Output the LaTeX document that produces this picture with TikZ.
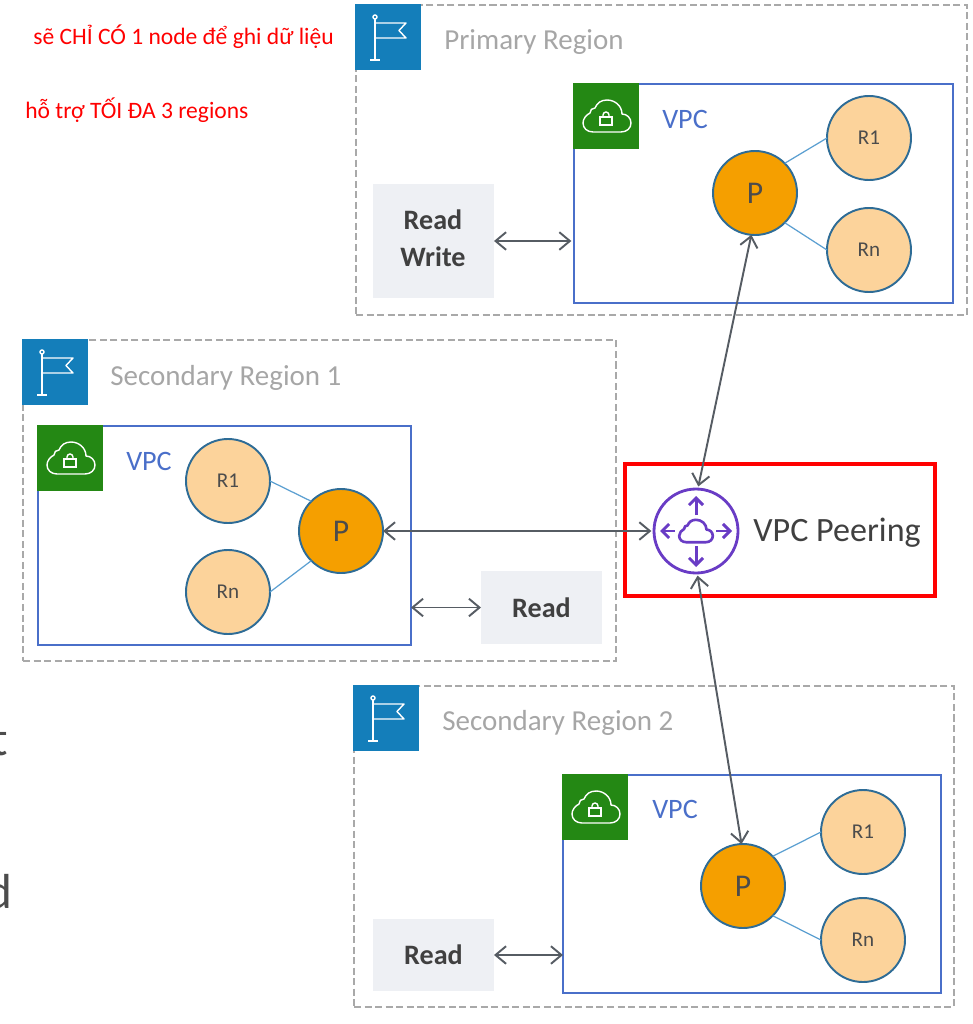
\documentclass[tikz,border=0pt]{standalone}
\usepackage{fontspec}
\setmainfont{Carlito}
\usetikzlibrary{arrows.meta,calc}
\definecolor{regiongray}{HTML}{A9A9A9}
\definecolor{flagblue}{HTML}{147EBA}
\definecolor{vpcgreen}{HTML}{248814}
\definecolor{vpcblue}{HTML}{4A6FC9}
\definecolor{pnode}{HTML}{F59F00}
\definecolor{rnode}{HTML}{FCD39B}
\definecolor{nodeline}{HTML}{2E6C96}
\definecolor{tieline}{HTML}{5B9FD1}
\definecolor{arrowgray}{HTML}{565C63}
\definecolor{rwfill}{HTML}{EEF0F4}
\definecolor{peerpurple}{HTML}{693CC5}
\definecolor{titlegray}{HTML}{A6A6A6}
\tikzset{
	sized/.style 2 args={minimum width=#1*0.02cm,minimum height=#2*0.02cm,inner sep=0pt,outer sep=0pt,anchor=north west},
	regionbox/.style={draw=regiongray,line width=1.1pt,dash pattern=on 4pt off 2pt},
	vpcbox/.style={draw=vpcblue,line width=1.2pt},
	flagbox/.style={fill=flagblue,sized={66}{66}},
	lockbox/.style={fill=vpcgreen,sized={66}{66}},
	rwbox/.style={fill=rwfill,text=black!75,font=\fontsize{16}{21}\selectfont\bfseries,align=center},
	rwlabel/.style={inner sep=0pt,text=black!75,font=\fontsize{16}{21}\selectfont\bfseries,align=center},
	pbig/.style={circle,draw=nodeline,fill=pnode,line width=1.1pt,minimum size=84*0.02cm,inner sep=0pt,outer sep=0pt,text=black!70,font=\fontsize{18}{18}\selectfont},
	rsmall/.style={circle,draw=nodeline,fill=rnode,line width=1.1pt,minimum size=84*0.02cm,inner sep=0pt,outer sep=0pt,text=black!70,font=\fontsize{12}{12}\selectfont},
	tie/.style={draw=tieline,line width=0.7pt},
	link/.style={draw=arrowgray,line width=1.1pt,{Straight Barb[length=6pt,width=10pt]}-{Straight Barb[length=6pt,width=10pt]}},
	regiontitle/.style={anchor=west,inner sep=0pt,text=titlegray,font=\fontsize{16.5}{16.5}\selectfont},
	vpctitle/.style={inner sep=0pt,text=vpcblue,font=\fontsize{16}{16}\selectfont},
	redtext/.style={anchor=west,inner sep=0pt,text=red,font=\fontsize{13.4}{13.4}\selectfont},
	flagicon/.pic={
		\draw[white,line width=0.8pt] (20,14) -- (20,56) (15,56) -- (25,56);
		\draw[white,line width=0.8pt] (20,13) circle (2);
		\draw[white,line width=0.8pt,line join=round] (20,19) -- (51,19) -- (44,26.5) -- (51,34) -- (20,34);
	},
	cloudicon/.pic={
		\draw[pic actions,line join=round] (-14,16) -- (14,16) .. controls (20,16) and (24,12) .. (24,7) .. controls (24,2) and (20,-2) .. (15,-2) .. controls (15,-10) and (8,-16) .. (0,-16) .. controls (-6,-16) and (-10,-13) .. (-12,-8) .. controls (-15,-8) and (-17,-6) .. (-17,-3) .. controls (-21,-1) and (-24,3) .. (-24,7) .. controls (-24,12) and (-20,16) .. (-14,16) -- cycle;
	},
	lockicon/.pic={
		\pic[draw=white,line width=0.8pt] at (34,33) {cloudicon};
		\draw[white,line width=0.9pt] (27,34) rectangle (39,42);
		\draw[white,line width=0.8pt] (30,34) -- (30,32) arc (180:360:3) -- (36,34);
	},
}
\begin{document}
\begin{tikzpicture}[x=0.02cm,y=-0.02cm]
	\useasboundingbox (0,0) rectangle (973,1024);

	% regions
	\node[regionbox,sized={611}{310}] (region1) at (356,5) {};
	\node[regionbox,sized={593}{321}] (region2) at (23,340) {};
	\node[regionbox,sized={600}{321}] (region3) at (354,686) {};
	\foreach \n/\x/\y in {1/355/4,2/22/339,3/353/685} {
		\node[flagbox] (flag\n) at (\x,\y) {};
		\pic at (flag\n.north west) {flagicon};
	}
	\node[regiontitle] (title1) at (444,42) {Primary Region};
	\node[regiontitle] (title2) at (110,378) {Secondary Region 1};
	\node[regiontitle] (title3) at (442,723) {Secondary Region 2};

	% vpc boxes
	\node[vpcbox,sized={379}{219}] (vpc1) at (574,84) {};
	\node[vpcbox,sized={373}{219}] (vpc2) at (38,426) {};
	\node[vpcbox,sized={378}{218}] (vpc3) at (563,775) {};
	\foreach \n/\x/\y in {1/573/83,2/37/425,3/562/774} {
		\node[lockbox] (lock\n) at (\x,\y) {};
		\pic at (lock\n.north west) {lockicon};
	}
	\node[vpctitle] (vpclabel1) at (685,119) {VPC};
	\node[vpctitle] (vpclabel2) at (149,461) {VPC};
	\node[vpctitle] (vpclabel3) at (675,809) {VPC};

	% nodes
	\node[pbig] (p1) at (755,193) {P};
	\node[rsmall] (ra1) at (869,138) {R1};
	\node[rsmall] (rb1) at (869,250) {Rn};
	\node[pbig] (p2) at (341,531) {P};
	\node[rsmall] (ra2) at (228,481) {R1};
	\node[rsmall] (rb2) at (228,592) {Rn};
	\node[pbig] (p3) at (743,886) {P};
	\node[rsmall] (ra3) at (863,832) {R1};
	\node[rsmall] (rb3) at (863,940) {Rn};
	\draw[tie] (p1.45) -- (ra1.180);
	\draw[tie] (p1.-45) -- (rb1.180);
	\draw[tie] (ra2.0) -- (p2.135);
	\draw[tie] (rb2.0) -- (p2.-135);
	\draw[tie] (p3.45) -- (ra3.180);
	\draw[tie] (p3.-45) -- (rb3.180);

	% read boxes
	\node[rwbox,sized={121}{114}] (rw1) at (373,184) {};
	\node[rwlabel] (rwtext) at (433,238) {Read\\Write};
	\node[rwbox,sized={121}{73}] (rw2) at (481,571) {Read};
	\node[rwbox,sized={121}{72}] (rw3) at (373,919) {Read};

	% peering
	\node[draw=red,line width=1.9pt,sized={310}{132}] (peerbox) at (625,464) {};
	\node[circle,draw=peerpurple,line width=1.6pt,minimum size=84*0.02cm,inner sep=0pt,outer sep=1.5pt] (peer) at (696,531) {};
	\foreach \a/\b/\c/\d in {0/-16/0/-35,0/15/0/36,-21/0/-36/0,20/0/36/0}
		\draw[peerpurple,line width=1.7pt,-{Straight Barb[length=4pt,width=8pt]}] ($(peer)+(\a,\b)$) -- ($(peer)+(\c,\d)$);
	\pic[draw=peerpurple,line width=1.5pt,scale=0.7] at (peer) {cloudicon};
	\node[inner sep=0pt,text=black!75,font=\fontsize{19.4}{19.4}\selectfont] (peertext) at (837,533) {VPC Peering};

	% arrows
	\draw[link,shorten >=1.5pt] (rw1.east) -- (rw1.east -| vpc1.west);
	\draw[link] (p1.265) -- (peer.87);
	\draw[link] (p2.east) -- (peer.west);
	\draw[link] (vpc2.east |- rw2.west) -- (rw2.west);
	\draw[link] (peer.-88) -- (p3.92);
	\draw[link] (rw3.east) -- (rw3.east -| vpc3.west);

	% notes
	\node[redtext] (note1) at (33,37) {sẽ CHỈ CÓ 1 node để ghi dữ liệu};
	\node[redtext] (note2) at (25,110) {hỗ trợ TỐI ĐA 3 regions};

	% letters cut off at the edge
	\node[anchor=base east,inner sep=0pt,text=black!70,font=\fontsize{28}{28}\selectfont] (cut1) at (8,755) {t};
	\node[anchor=base east,inner sep=0pt,text=black!70,font=\fontsize{28}{28}\selectfont] (cut2) at (13,908) {d};
\end{tikzpicture}
\end{document}
